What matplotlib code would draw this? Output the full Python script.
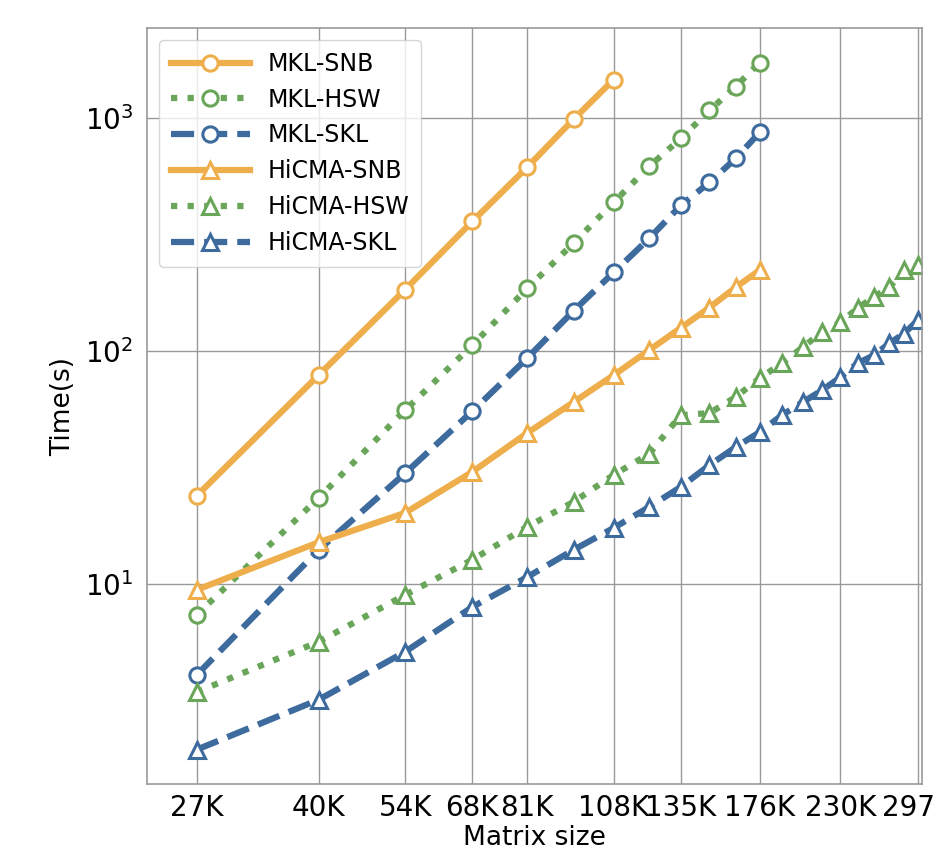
import numpy as np
import matplotlib
matplotlib.use('Agg')
import matplotlib.pyplot as plt
from matplotlib.ticker import FixedLocator, NullLocator

# matrix sizes (steps of 13.5K starting at 27K)
sizes = [27000 + 13500 * i for i in range(21)]

tick_vals = [27000, 40500, 54000, 67500, 81000, 108000, 135000, 175500, 229500, 297000]
tick_labels = ['27K', '40K', '54K', '68K', '81K', '108K', '135K', '176K', '230K', '297K']

# timings in seconds
mkl_snb = [23.9, 78.9, 184, 361, 617, 991, 1469]
mkl_hsw = [7.36, 23.4, 55.8, 106, 186, 291, 436, 622, 820, 1082, 1371, 1738]
mkl_skl = [4.06, 14.0, 29.9, 55.2, 93.3, 149, 218, 305, 423, 531, 673, 871]
hicma_snb = [9.43, 15.1, 20.2, 30.3, 44.5, 60.4, 78.9, 101, 126, 154, 188, 223]
hicma_hsw = [3.43, 5.64, 8.97, 12.7, 17.6, 22.5, 29.4, 36.2, 53.1, 54.2, 63.5, 76.6,
             88.8, 104, 121, 133, 153, 171, 188, 223, 234]
hicma_skl = [1.94, 3.18, 5.11, 7.96, 10.7, 14.0, 17.4, 21.4, 26.1, 32.4, 38.7, 44.9,
             53.1, 60.4, 68.0, 77.3, 88.7, 96.1, 108, 119, 136]

orange = '#eeae4b'
green = '#6aa659'
blue = '#3e6b9e'

series = [
    ('MKL-SNB', mkl_snb, orange, '-', 'o'),
    ('MKL-HSW', mkl_hsw, green, ':', 'o'),
    ('MKL-SKL', mkl_skl, blue, '--', 'o'),
    ('HiCMA-SNB', hicma_snb, orange, '-', '^'),
    ('HiCMA-HSW', hicma_hsw, green, ':', '^'),
    ('HiCMA-SKL', hicma_skl, blue, '--', '^'),
]

fig = plt.figure(figsize=(9.37, 8.55), dpi=100)
ax = fig.add_axes([0.157, 0.083, 0.827, 0.884])

for name, vals, col, ls, mk in series:
    ax.plot(sizes[:len(vals)], vals, linestyle=ls, color=col, linewidth=4.5,
            marker=mk, markersize=11, markerfacecolor='white',
            markeredgecolor=col, markeredgewidth=2.2, label=name)

ax.set_xscale('log')
ax.set_yscale('log')
ax.set_xlim(22900, 301000)
ax.xaxis.set_major_locator(FixedLocator(tick_vals))
ax.set_xticklabels(tick_labels)
ax.xaxis.set_minor_locator(NullLocator())
ax.yaxis.set_minor_locator(NullLocator())

ax.grid(True, which='major', color='#999999', linewidth=1.0)
ax.set_axisbelow(True)
for sp in ax.spines.values():
    sp.set_color('#999999')
    sp.set_linewidth(1.2)
ax.tick_params(axis='x', length=0, labelsize=20, pad=7)
ax.tick_params(axis='y', length=0, labelsize=20, pad=10)

ax.set_xlabel('Matrix size', fontsize=19, labelpad=2)
ax.set_ylabel('Time(s)', fontsize=19, labelpad=6)

ax.legend(loc='upper left', fontsize=17, handlelength=3.35, handletextpad=0.75,
          borderpad=0.5, labelspacing=0.5, framealpha=0.8, edgecolor='#cccccc')

fig.savefig('out.png', dpi=100)
